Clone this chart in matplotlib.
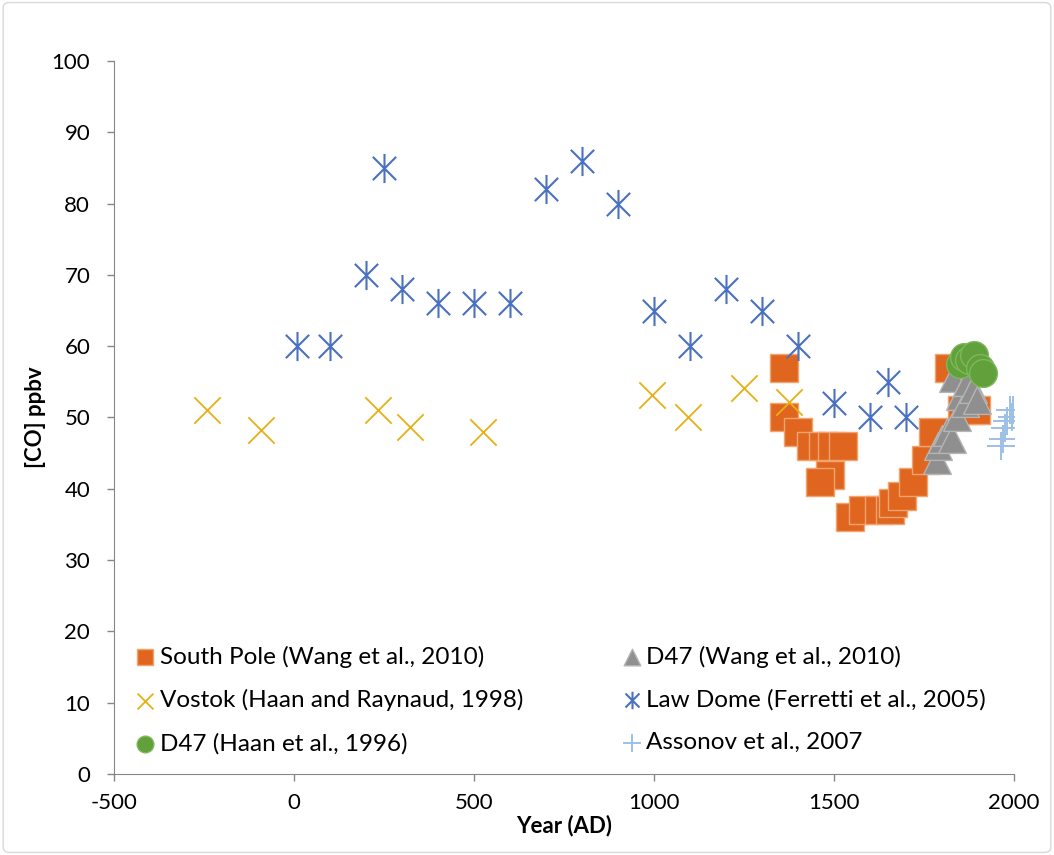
import matplotlib.pyplot as plt
from matplotlib.path import Path
from matplotlib.patches import FancyBboxPatch

plt.rcParams['font.family'] = ['Lato', 'DejaVu Sans']
plt.rcParams['axes.unicode_minus'] = False

# South Pole (Wang et al., 2010)
sp_year = [1360, 1360, 1400, 1435, 1470, 1495, 1525, 1490, 1460, 1545, 1580,
           1625, 1655, 1665, 1690, 1720, 1755, 1775, 1820, 1855, 1880, 1895]
sp_co = [57, 50, 48, 46, 46, 46, 46, 42, 41, 36, 37,
         37, 37, 38, 39, 41, 44, 48, 57, 51, 51, 51]

# D47 (Wang et al., 2010)
dw_year = [1785, 1790, 1800, 1815, 1828, 1830, 1842, 1850, 1864, 1870, 1885, 1897]
dw_co = [44, 46, 47, 48, 47, 55.5, 50, 53, 52, 55, 54, 52.5]

# Vostok (Haan and Raynaud, 1998)
vo_year = [-240, -90, 233, 322, 525, 994, 1094, 1250, 1375]
vo_co = [51, 48.3, 51, 48.7, 48, 53.2, 50.1, 54.1, 52.2]

# Law Dome (Ferretti et al., 2005)
ld_year = [10, 100, 200, 250, 300, 400, 500, 600, 700, 800, 900, 1000,
           1100, 1200, 1300, 1400, 1500, 1600, 1650, 1700]
ld_co = [60, 60, 70, 85, 68, 66, 66, 66, 82, 86, 80, 65,
         60, 68, 65, 60, 52, 50, 55, 50]

# D47 (Haan et al., 1996)
dh_year = [1850, 1860, 1875, 1890, 1905, 1915]
dh_co = [57.5, 58.5, 58, 58.7, 57, 56.2]

# Assonov et al., 2007
as_year = [1965, 1970, 1975, 1980, 1990, 1995, 1998]
as_co = [46, 47, 48.5, 49.5, 51, 50, 51]

# asterisk marker like Excel's (vertical bar + X)
star = Path([(0, -1), (0, 1), (-0.8, -0.8), (0.8, 0.8), (-0.8, 0.8), (0.8, -0.8)],
            [Path.MOVETO, Path.LINETO] * 3)

fig = plt.figure(figsize=(10.54, 8.55), dpi=100)
ax = fig.add_axes([0.108, 0.0947, 0.854, 0.834])

sp = ax.scatter(sp_year, sp_co, marker='s', s=380, color='#E0661F',
                edgecolors='#F2A470', linewidths=1, zorder=2,
                label='South Pole (Wang et al., 2010)')
vo = ax.scatter(vo_year, vo_co, marker='x', s=360, color='#E8B014',
                linewidths=1.3, zorder=4, label='Vostok (Haan and Raynaud, 1998)')
dw = ax.scatter(dw_year, dw_co, marker='^', s=400, color='#8F8F8F',
                edgecolors='#B5B5B5', linewidths=1, zorder=3,
                label='D47 (Wang et al., 2010)')
dh = ax.scatter(dh_year, dh_co, marker='o', s=400, color='#62A03C',
                edgecolors='#7DB85A', linewidths=1, zorder=5,
                label='D47 (Haan et al., 1996)')
ld = ax.scatter(ld_year, ld_co, marker=star, s=440, color='#4A70C0',
                linewidths=1.5, zorder=4, label='Law Dome (Ferretti et al., 2005)')
ac = ax.scatter(as_year, as_co, marker='+', s=420, color='#9DC0E8',
                linewidths=1.4, zorder=4, label='Assonov et al., 2007')

ax.set_xlim(-500, 2000)
ax.set_ylim(0, 100)
ax.set_xticks(range(-500, 2001, 500))
ax.set_yticks(range(0, 101, 10))
ax.tick_params(labelsize=16, color='#868686', length=5, width=1)
ax.tick_params(axis='x', pad=9)
ax.tick_params(axis='y', pad=12)
for side in ['top', 'right']:
    ax.spines[side].set_visible(False)
for side in ['left', 'bottom']:
    ax.spines[side].set_color('#868686')

ax.set_xlabel('Year (AD)', fontsize=16, fontweight='bold', labelpad=1)
ax.set_ylabel('[CO] ppbv', fontsize=16, fontweight='bold', labelpad=4)

ax.legend(handles=[sp, vo, dh, dw, ld, ac], ncol=2, loc='lower left',
          bbox_to_anchor=(0.0, 0.004), frameon=False, fontsize=17.5,
          markerscale=0.6, handletextpad=0.0, handlelength=1.2,
          columnspacing=3.85, labelspacing=0.88, borderaxespad=0.3)

fig.patches.append(FancyBboxPatch((0.003, 0.003), 0.994, 0.994,
                                  boxstyle='round,pad=0,rounding_size=0.006',
                                  transform=fig.transFigure, fill=False,
                                  edgecolor='#D9D9D9', linewidth=1))

fig.savefig('out.png', dpi=100)
